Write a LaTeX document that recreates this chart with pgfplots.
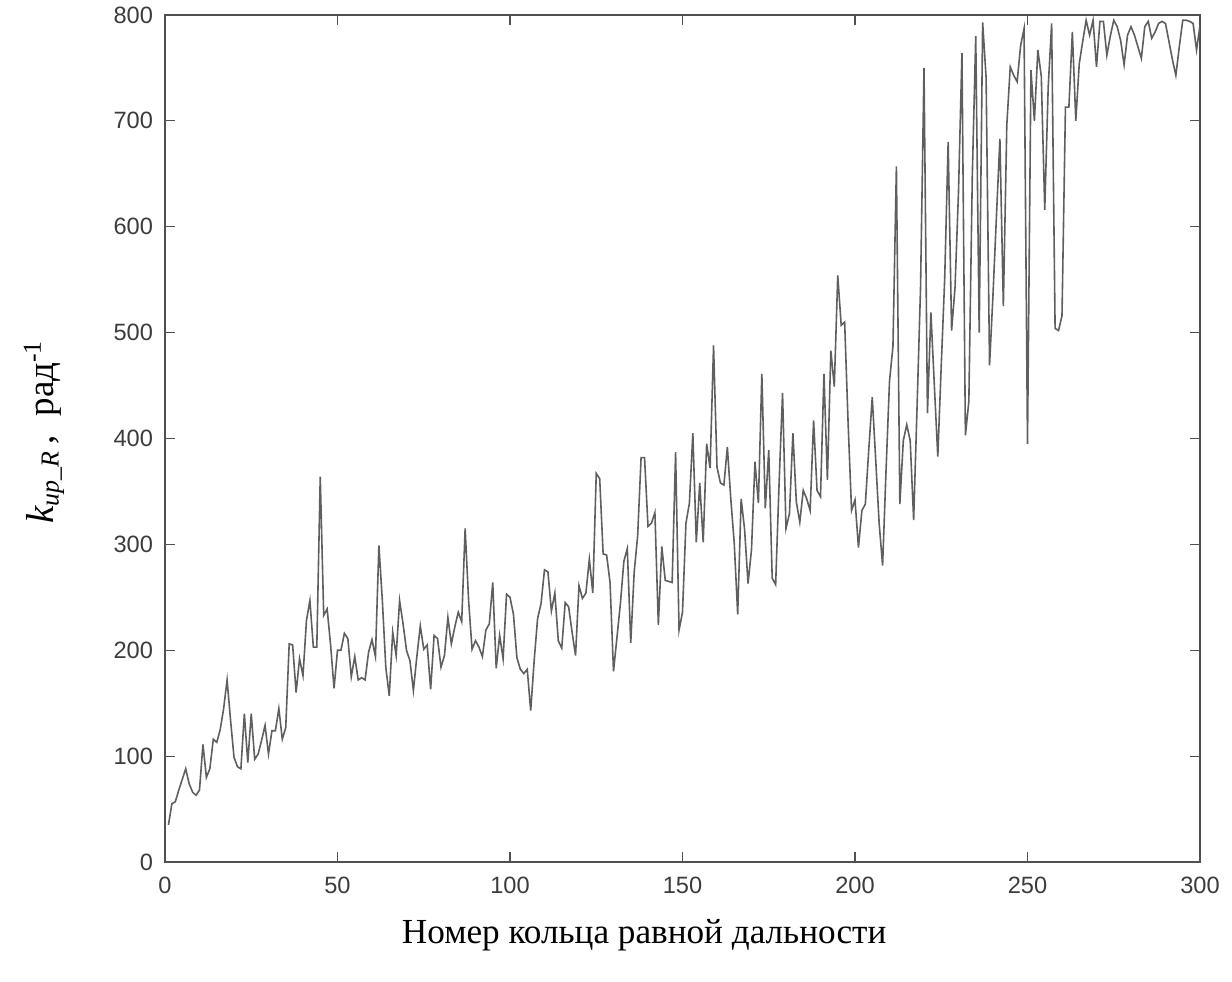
\documentclass[border=0pt]{standalone}
\usepackage{fontspec}
\setmainfont{Liberation Serif}
\newfontfamily\ticksans{Liberation Sans}
\usepackage{pgfplots}
\pgfplotsset{compat=1.18}

\definecolor{axisgray}{RGB}{80,80,80}
\definecolor{linegray}{RGB}{95,95,95}
\definecolor{labelgray}{RGB}{60,60,60}

\begin{document}
\begin{tikzpicture}
% page = reference canvas, 0.5pt per pixel
\useasboundingbox (-82.5pt,-59.5pt) rectangle (533.5pt,431pt);
\begin{axis}[
    at={(0,0)}, anchor=south west,
    scale only axis,
    width=517.5pt, height=423.5pt,
    xmin=0, xmax=300,
    ymin=0, ymax=800,
    xtick={0,50,...,300},
    ytick={0,100,...,800},
    axis line style={axisgray, line width=0.9pt},
    major tick style={axisgray, line width=0.6pt},
    major tick length=5pt,
    tick align=inside,
    /pgf/number format/assume math mode=true,
    tick label style={font=\ticksans\fontsize{11.8}{13}\selectfont, text=labelgray},
    yticklabel style={xshift=-2.5pt},
    xticklabel style={yshift=-4pt},
    xlabel={Номер кольца равной дальности},
    xlabel style={at={(axis description cs:0.463,-0.086)}, anchor=center,
        font=\fontsize{17.6}{20}\selectfont},
    ylabel={{\fontsize{19.5}{22}\selectfont\itshape k}\textsubscript{\itshape up\_R}\,,\enspace рад\textsuperscript{-1}},
    ylabel style={at={(axis description cs:-0.117,0.508)}, anchor=center,
        font=\fontsize{18.5}{21}\selectfont},
]
\addplot[linegray, line width=0.8pt] coordinates {
(1,35) (2,55) (3,57) (4,68) (5,78) (6,88) (7,74) (8,66) (9,63) (10,68)
(11,111) (12,80) (13,88) (14,116) (15,113) (16,125) (17,145) (18,172) (19,134) (20,99)
(21,90) (22,88) (23,140) (24,94) (25,140) (26,97) (27,102) (28,115) (29,129) (30,102)
(31,124) (32,124) (33,145) (34,116) (35,127) (36,206) (37,205) (38,160) (39,192) (40,176)
(41,228) (42,247) (43,203) (44,203) (45,364) (46,233) (47,239) (48,205) (49,164) (50,200)
(51,200) (52,216) (53,211) (54,175) (55,194) (56,172) (57,174) (58,172) (59,198) (60,210)
(61,194) (62,299) (63,247) (64,184) (65,157) (66,217) (67,195) (68,247) (69,225) (70,200)
(71,190) (72,162) (73,194) (74,223) (75,201) (76,205) (77,163) (78,214) (79,211) (80,184)
(81,195) (82,231) (83,206) (84,222) (85,236) (86,227) (87,315) (88,247) (89,201) (90,209)
(91,203) (92,194) (93,219) (94,225) (95,264) (96,183) (97,214) (98,192) (99,253) (100,250)
(101,234) (102,193) (103,182) (104,178) (105,182) (106,143) (107,190) (108,230) (109,244) (110,276)
(111,274) (112,237) (113,254) (114,209) (115,202) (116,245) (117,241) (118,217) (119,195) (120,261)
(121,249) (122,254) (123,286) (124,254) (125,367) (126,362) (127,291) (128,290) (129,264) (130,180)
(131,212) (132,244) (133,284) (134,296) (135,207) (136,274) (137,308) (138,382) (139,382) (140,317)
(141,320) (142,330) (143,224) (144,298) (145,266) (146,265) (147,264) (148,387) (149,219) (150,236)
(151,320) (152,339) (153,405) (154,302) (155,358) (156,302) (157,395) (158,372) (159,488) (160,373)
(161,358) (162,356) (163,392) (164,343) (165,301) (166,234) (167,343) (168,314) (169,263) (170,295)
(171,378) (172,339) (173,461) (174,334) (175,389) (176,268) (177,262) (178,358) (179,443) (180,315)
(181,329) (182,405) (183,340) (184,321) (185,351) (186,343) (187,332) (188,417) (189,351) (190,345)
(191,461) (192,361) (193,483) (194,449) (195,554) (196,507) (197,510) (198,415) (199,332) (200,342)
(201,297) (202,332) (203,338) (204,390) (205,439) (206,380) (207,320) (208,280) (209,370) (210,454)
(211,487) (212,657) (213,338) (214,398) (215,413) (216,398) (217,323) (218,431) (219,543) (220,750)
(221,424) (222,519) (223,450) (224,383) (225,469) (226,551) (227,680) (228,502) (229,543) (230,633)
(231,764) (232,403) (233,435) (234,648) (235,780) (236,500) (237,793) (238,741) (239,469) (240,536)
(241,610) (242,683) (243,525) (244,696) (245,751) (246,743) (247,737) (248,771) (249,787) (250,395)
(251,748) (252,700) (253,767) (254,742) (255,616) (256,732) (257,792) (258,504) (259,502) (260,516)
(261,713) (262,713) (263,784) (264,700) (265,754) (266,775) (267,795) (268,781) (269,795) (270,751)
(271,794) (272,794) (273,762) (274,780) (275,795) (276,789) (277,776) (278,753) (279,781) (280,789)
(281,781) (282,770) (283,759) (284,789) (285,794) (286,778) (287,784) (288,792) (289,794) (290,792)
(291,775) (292,758) (293,743) (294,770) (295,795) (296,795) (297,794) (298,792) (299,767) (300,790)
};
\end{axis}
\end{tikzpicture}
\end{document}
